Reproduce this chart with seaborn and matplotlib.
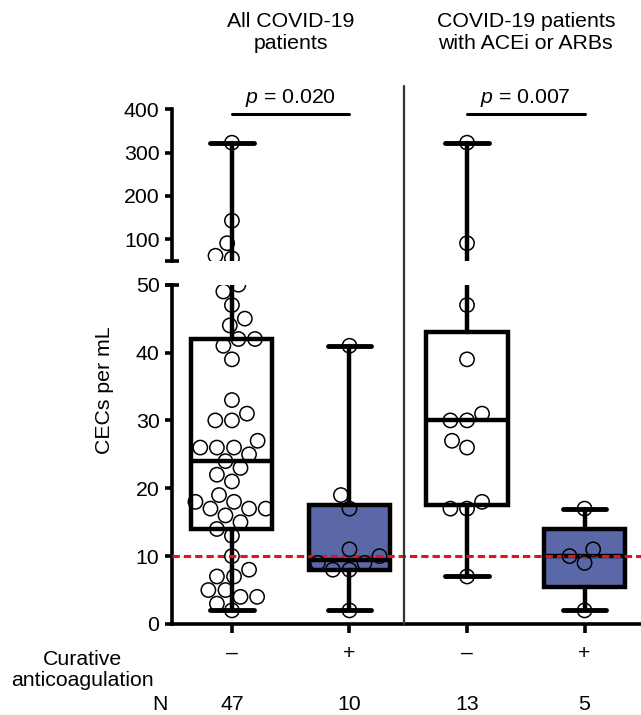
import numpy as np
import pandas as pd
import matplotlib
matplotlib.use("Agg")
import matplotlib.pyplot as plt
import matplotlib.transforms as mtransforms
from matplotlib.lines import Line2D
import seaborn as sns

# CECs per mL, one value per patient
all_minus = [323, 143, 91, 62, 56, 50, 49, 47, 45, 44, 42, 42, 41, 39, 33, 31,
             30, 30, 27, 26, 26, 26, 25, 24, 23, 22, 21, 19, 18, 18, 17, 17,
             17, 16, 15, 14, 13, 10, 8, 7, 7, 5, 5, 4, 4, 3, 2]
all_plus = [41, 19, 17, 11, 10, 9, 9, 8, 8, 2]
acei_minus = [323, 91, 47, 39, 31, 30, 30, 27, 26, 18, 17, 17, 7]
acei_plus = [17, 11, 10, 9, 2]

groups = ["all_minus", "all_plus", "acei_minus", "acei_plus"]
anticoag = ["\u2013", "+", "\u2013", "+"]
panel_titles = ["All COVID-19\npatients", "COVID-19 patients\nwith ACEi or ARBs"]
p_values = ["0.020", "0.007"]
threshold = 10
break_at = 50

values = [all_minus, all_plus, acei_minus, acei_plus]
df = pd.DataFrame({
    "group": np.repeat(groups, [len(v) for v in values]),
    "cec": np.concatenate(values),
})

# GraphPad style quartiles, whiskers min to max
stats = []
for v in values:
    q1, med, q3 = np.percentile(v, [25, 50, 75], method="weibull")
    stats.append(dict(q1=q1, med=med, q3=q3, whislo=min(v), whishi=max(v), fliers=[]))

box_colors = ["white", "#5b68a8", "white", "#5b68a8"]
fs = 15.3
lw = 3.2

sns.set_style("ticks")
plt.rcParams["font.family"] = ["Liberation Sans", "DejaVu Sans"]
plt.rcParams["mathtext.fontset"] = "custom"
plt.rcParams["mathtext.it"] = "Liberation Sans:italic"
plt.rcParams["mathtext.rm"] = "Liberation Sans"
plt.rcParams["text.color"] = "black"
plt.rcParams["axes.edgecolor"] = "black"
plt.rcParams["xtick.color"] = "black"
plt.rcParams["ytick.color"] = "black"

fig = plt.figure(figsize=(6.41, 7.15), dpi=100)
ax_lo = fig.add_axes([0.2683, 0.1273, 0.7317, 0.4745])
ax_hi = fig.add_axes([0.2683, 0.6350, 0.7317, 0.2121])

for ax, sub in [(ax_lo, df[df.cec <= break_at]), (ax_hi, df[df.cec > break_at])]:
    n0 = len(ax.collections)
    sns.swarmplot(data=sub, x="group", y="cec", order=groups, ax=ax, size=10.3,
                  color="white", edgecolor="black", linewidth=1.1, zorder=6)
    for c in ax.collections[n0:]:
        c.set_facecolor("none")
    bp = ax.bxp(stats, positions=range(4), widths=0.69, capwidths=0.37,
                patch_artist=True, showfliers=False, manage_ticks=False,
                boxprops=dict(lw=lw, edgecolor="k"),
                medianprops=dict(lw=lw, color="k"),
                whiskerprops=dict(lw=lw, color="k"),
                capprops=dict(lw=lw + 0.3, color="k"))
    for patch, col in zip(bp["boxes"], box_colors):
        patch.set_facecolor(col)
    ax.set_xlim(-0.51, 3.48)
    ax.set_xlabel("")
    ax.set_ylabel("")
    for s in ax.spines.values():
        s.set_linewidth(2.6)
    ax.tick_params(axis="y", width=2.6, length=5, pad=4, labelsize=fs, colors="k")
    # break mark at the cut
    ax.plot([0], [break_at], marker="_", ms=10, mew=2.6, color="k", clip_on=False,
            transform=mtransforms.blended_transform_factory(ax.transAxes, ax.transData))

ax_lo.set_ylim(0, 50)
ax_lo.set_yticks([0, 10, 20, 30, 40, 50])
ax_lo.set_xticks(range(4))
ax_lo.set_xticklabels(anticoag)
ax_lo.tick_params(axis="x", width=2.6, length=6.5, pad=8, labelsize=fs, colors="k")
sns.despine(ax=ax_lo)
ax_lo.axhline(threshold, color="#e3121b", lw=2.2, ls=(0, (2.4, 1.3)), zorder=5)

ax_hi.set_ylim(50, 400)
ax_hi.set_yticks([100, 200, 300, 400])
ax_hi.set_xticks([])
sns.despine(ax=ax_hi, bottom=True)

trans = mtransforms.blended_transform_factory(ax_lo.transData, fig.transFigure)
fig.add_artist(Line2D([1.46, 1.46], [1 - 624 / 715, 1 - 86 / 715], transform=trans,
                      color="#333333", lw=1.6))

for i, t in enumerate(panel_titles):
    ax_lo.text(2 * i + 0.5, 0.955, t, transform=trans, ha="center", va="center",
               fontsize=fs, linespacing=1.2)

for i, p in enumerate(p_values):
    ax_hi.plot([2 * i, 2 * i + 1], [389, 389], color="k", lw=2.2, clip_on=False)
    ax_hi.annotate(f"$p$ = {p}", xy=(2 * i + 0.5, 389), xytext=(0, 4),
                   textcoords="offset points", ha="center", va="bottom", fontsize=fs)

for i, v in enumerate(values):
    ax_lo.text(i, 0.014, str(len(v)), transform=trans, ha="center", va="center", fontsize=fs)
fig.text(0.262, 0.014, "N", ha="right", va="center", fontsize=fs)
fig.text(0.128, 0.063, "Curative\nanticoagulation", ha="center", va="center",
         fontsize=fs, linespacing=1.15)
fig.text(105 / 641, 1 - 390 / 715, "CECs per mL", rotation=90, ha="center", va="center",
         fontsize=fs)

fig.savefig("out.png", dpi=100)
